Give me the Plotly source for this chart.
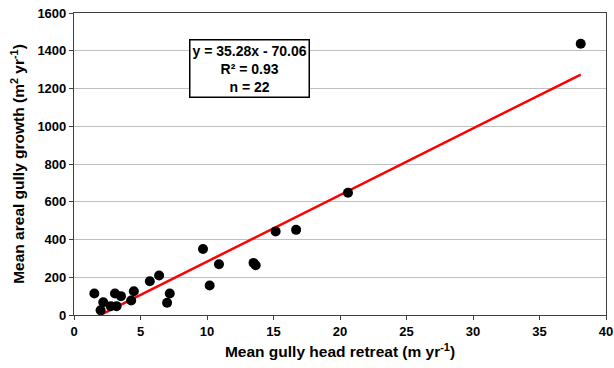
import plotly.graph_objects as go

# Data
head_retreat = [1.53, 2.0, 2.2, 2.76, 3.2, 3.08, 3.53, 4.3, 4.5, 5.7, 6.4,
                7.0, 7.2, 9.7, 10.2, 10.9, 13.5, 13.66, 15.16, 16.7, 20.6, 38.1]
areal_growth = [114, 25, 68, 47, 47, 114, 100, 77, 126, 179, 209,
                65, 114, 350, 156, 269, 276, 264, 443, 451, 648, 1437]
slope = 35.28
intercept = -70.06
r2 = 0.93
x_ticks = [0, 5, 10, 15, 20, 25, 30, 35, 40]
y_ticks = [0, 200, 400, 600, 800, 1000, 1200, 1400, 1600]

font_family = "Liberation Sans, Arial, sans-serif"

fit_x = [min(head_retreat), max(head_retreat)]
fit_y = [slope * v + intercept for v in fit_x]

fig = go.Figure()
fig.add_trace(go.Scatter(x=fit_x, y=fit_y, mode="lines",
                         line=dict(color="#ff0000", width=2.5), hoverinfo="skip"))
fig.add_trace(go.Scatter(x=head_retreat, y=areal_growth, mode="markers",
                         marker=dict(color="black", size=10)))

fig.add_annotation(
    x=13.2, y=1307, xref="x", yref="y",
    text=f"<b>y = {slope:.2f}x - {abs(intercept):.2f}<br>R² = {r2:.2f}<br>n = {len(head_retreat)}</b>",
    showarrow=False, align="center",
    font=dict(family=font_family, size=14, color="black"),
    bgcolor="white", bordercolor="black", borderwidth=1.5, borderpad=2,
)

fig.update_layout(
    width=614, height=368,
    margin=dict(l=74, r=8, t=13, b=53),
    paper_bgcolor="white", plot_bgcolor="white",
    showlegend=False,
    font=dict(family=font_family, size=12, color="black"),
    xaxis=dict(
        range=[0, 40], tickvals=x_ticks, ticktext=[f"<b>{t}</b>" for t in x_ticks],
        showgrid=False, zeroline=False, automargin=False,
        showline=True, linecolor="#404040", linewidth=1.2, mirror=True,
        ticks="outside", ticklen=4, tickcolor="#404040",
        tickfont=dict(size=13),
        title=dict(text="<b>Mean gully head retreat (m yr<sup>-1</sup>)</b>",
                   font=dict(size=15.5), standoff=8),
    ),
    yaxis=dict(
        range=[0, 1600], tickvals=y_ticks, ticktext=[f"<b>{t}</b>" for t in y_ticks],
        showgrid=True, gridcolor="#bfbfbf", gridwidth=1, zeroline=False, automargin=False,
        showline=True, linecolor="#404040", linewidth=1.2, mirror=True,
        ticks="outside", ticklen=4, tickcolor="#404040",
        tickfont=dict(size=13),
        title=dict(text="<b>Mean areal gully growth (m<sup>2</sup> yr<sup>-1</sup>)</b>",
                   font=dict(size=15.5), standoff=8),
    ),
)

fig.write_html("out.html")
